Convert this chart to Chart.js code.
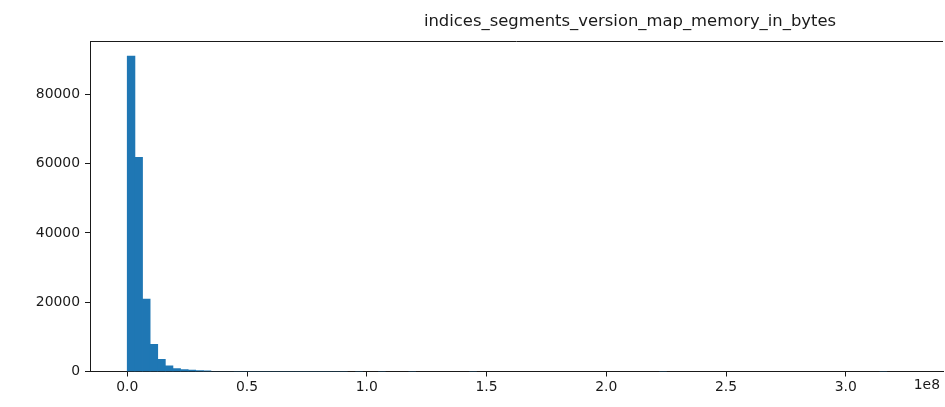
<!DOCTYPE html>
<html>
<head>
<meta charset="utf-8">
<script src="https://cdn.jsdelivr.net/npm/chart.js@4.4.1/dist/chart.umd.min.js"></script>
<style>
  html, body { margin: 0; padding: 0; background: #fff; overflow: hidden; }
  #wrap { width: 945px; height: 407px; }
</style>
</head>
<body>
<div id="wrap"><canvas id="c" width="945" height="407"></canvas></div>
<script>
// Histogram of per-index segment version map memory (bytes), 100 equal-width bins
const chartTitle = 'indices_segments_version_map_memory_in_bytes';
const binStart = 0;
const binWidth = 3.173e6;
const counts = [
  91000, 61800, 20900, 7850, 3500, 1600, 800, 500, 380, 280,
  120, 90, 60, 42, 30, 22, 16, 12, 9, 7,
  5, 4, 3, 3, 2, 2, 1, 1, 1, 0,
  1, 0, 0, 1, 0, 0, 0, 1, 0, 0,
  0, 0, 0, 0, 0, 1, 0, 0, 0, 0,
  0, 0, 0, 0, 0, 0, 0, 0, 0, 0,
  0, 0, 0, 0, 0, 0, 0, 0, 0, 0,
  1, 0, 0, 0, 0, 0, 0, 0, 0, 0,
  0, 0, 0, 0, 0, 0, 0, 0, 0, 0,
  0, 0, 0, 0, 0, 0, 0, 0, 0, 1
];
const xTicks = [0, 0.5e8, 1.0e8, 1.5e8, 2.0e8, 2.5e8, 3.0e8];
const yTicks = [0, 20000, 40000, 60000, 80000];
const xOffsetLabel = '1e8';

const FONT = 'DejaVu Sans';
const INK = '#1a1a1a';
const TICK_SIZE = 13.9;

const points = counts.map((c, i) => ({ x: binStart + (i + 0.5) * binWidth, y: c }));

const decorations = {
  id: 'decorations',
  afterDraw(chart) {
    const { ctx, chartArea: a } = chart;
    ctx.save();
    // top spine
    ctx.strokeStyle = INK;
    ctx.lineWidth = 1;
    ctx.beginPath();
    ctx.moveTo(a.left, Math.round(a.top) + 0.5);
    ctx.lineTo(a.right, Math.round(a.top) + 0.5);
    ctx.stroke();
    // title
    ctx.fillStyle = INK;
    ctx.font = '16.4px "' + FONT + '"';
    ctx.textBaseline = 'alphabetic';
    ctx.textAlign = 'center';
    ctx.fillText(chartTitle, 630, 26);
    // axis offset text
    ctx.font = TICK_SIZE + 'px "' + FONT + '"';
    ctx.textAlign = 'right';
    ctx.textBaseline = 'middle';
    ctx.fillText(xOffsetLabel, 940, 385);
    ctx.restore();
  }
};

new Chart(document.getElementById('c'), {
  type: 'bar',
  data: {
    datasets: [{
      data: points,
      backgroundColor: '#1f77b4',
      borderWidth: 0,
      barPercentage: 1,
      categoryPercentage: 1,
      // close the anti-aliasing seams between adjacent visible bins
      inflateAmount: ctx => (ctx.raw && ctx.raw.y >= 100 ? 0.4 : 0)
    }]
  },
  options: {
    responsive: false,
    animation: false,
    devicePixelRatio: 1,
    layout: { padding: { top: 41, right: 2, left: 0, bottom: 0 } },
    plugins: { legend: { display: false }, tooltip: { enabled: false }, title: { display: false } },
    scales: {
      x: {
        type: 'linear',
        min: -0.1557e8,
        max: 3.406e8,
        offset: false,
        grid: { display: true, drawOnChartArea: false, drawTicks: true, tickLength: 5, tickColor: INK, offset: false },
        border: { display: true, color: INK, width: 1 },
        ticks: {
          color: INK,
          font: { family: FONT, size: TICK_SIZE },
          padding: 3,
          maxRotation: 0,
          autoSkip: false,
          callback: v => (v / 1e8).toFixed(1)
        },
        afterBuildTicks: s => { s.ticks = xTicks.map(v => ({ value: v })); },
        afterFit: s => { s.height = 35.5; }
      },
      y: {
        min: 0,
        max: 95400,
        grid: { display: true, drawOnChartArea: false, drawTicks: true, tickLength: 5, tickColor: INK },
        border: { display: true, color: INK, width: 1 },
        ticks: {
          color: INK,
          font: { family: FONT, size: TICK_SIZE },
          padding: 5,
          callback: v => String(v)
        },
        afterBuildTicks: s => { s.ticks = yTicks.map(v => ({ value: v })); },
        afterFit: s => { s.width = 90; }
      }
    }
  },
  plugins: [decorations]
});
</script>
</body>
</html>
